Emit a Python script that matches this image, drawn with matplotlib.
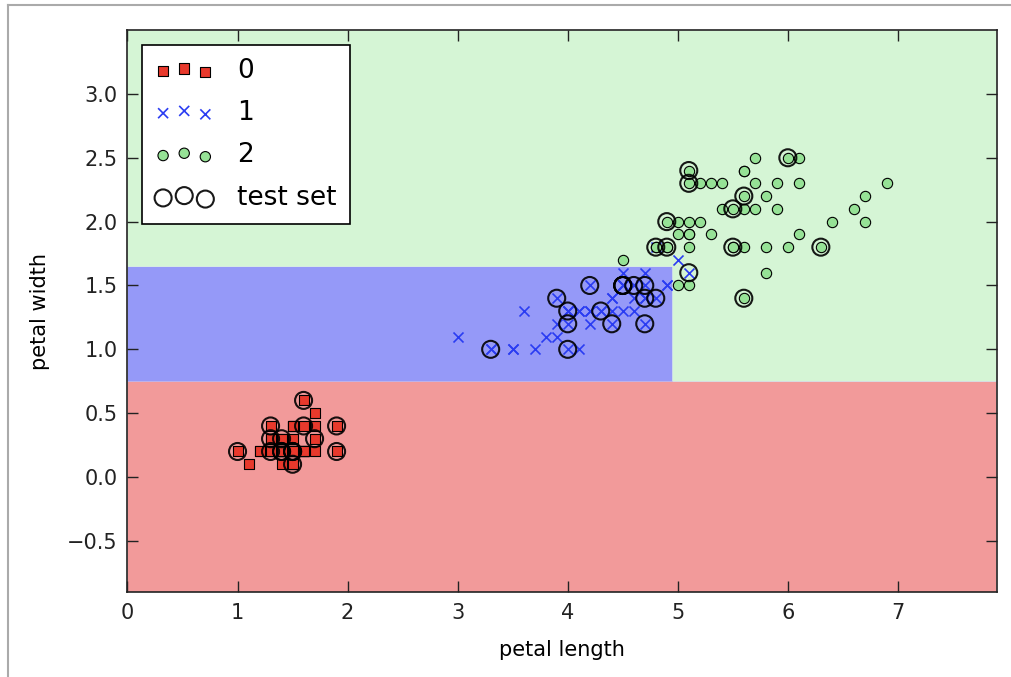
import matplotlib
matplotlib.use("Agg")
import matplotlib.pyplot as plt
from matplotlib.colors import ListedColormap
from matplotlib.lines import Line2D
import numpy as np

# iris petal measurements per class (length, width in cm)
setosa_length = [1.4, 1.4, 1.3, 1.5, 1.4, 1.7, 1.4, 1.5, 1.4, 1.5,
                 1.5, 1.6, 1.4, 1.1, 1.2, 1.5, 1.3, 1.4, 1.7, 1.5,
                 1.7, 1.5, 1.0, 1.7, 1.9, 1.6, 1.6, 1.5, 1.4, 1.6,
                 1.6, 1.5, 1.5, 1.4, 1.5, 1.2, 1.3, 1.5, 1.3, 1.5,
                 1.3, 1.3, 1.3, 1.6, 1.9, 1.4, 1.6, 1.4, 1.5, 1.4]
setosa_width = [0.2, 0.2, 0.2, 0.2, 0.2, 0.4, 0.3, 0.2, 0.2, 0.1,
                0.2, 0.2, 0.1, 0.1, 0.2, 0.4, 0.4, 0.3, 0.3, 0.3,
                0.2, 0.4, 0.2, 0.5, 0.2, 0.2, 0.4, 0.2, 0.2, 0.2,
                0.2, 0.4, 0.1, 0.2, 0.1, 0.2, 0.2, 0.1, 0.2, 0.2,
                0.3, 0.3, 0.2, 0.6, 0.4, 0.3, 0.2, 0.2, 0.2, 0.2]
versicolor_length = [4.7, 4.5, 4.9, 4.0, 4.6, 4.5, 4.7, 3.3, 4.6, 3.9,
                     3.5, 4.2, 4.0, 4.7, 3.6, 4.4, 4.5, 4.1, 4.5, 3.9,
                     4.8, 4.0, 4.9, 4.7, 4.3, 4.4, 4.8, 5.0, 4.5, 3.5,
                     3.8, 3.7, 3.9, 5.1, 4.5, 4.5, 4.7, 4.4, 4.1, 4.0,
                     4.4, 4.6, 4.0, 3.3, 4.2, 4.2, 4.2, 4.3, 3.0, 4.1]
versicolor_width = [1.4, 1.5, 1.5, 1.3, 1.5, 1.3, 1.6, 1.0, 1.3, 1.4,
                    1.0, 1.5, 1.0, 1.4, 1.3, 1.4, 1.5, 1.0, 1.5, 1.1,
                    1.8, 1.3, 1.5, 1.2, 1.3, 1.4, 1.4, 1.7, 1.5, 1.0,
                    1.1, 1.0, 1.2, 1.6, 1.5, 1.6, 1.5, 1.3, 1.3, 1.3,
                    1.2, 1.4, 1.2, 1.0, 1.3, 1.2, 1.3, 1.3, 1.1, 1.3]
virginica_length = [6.0, 5.1, 5.9, 5.6, 5.8, 6.6, 4.5, 6.3, 5.8, 6.1,
                    5.1, 5.3, 5.5, 5.0, 5.1, 5.3, 5.5, 6.7, 6.9, 5.0,
                    5.7, 4.9, 6.7, 4.9, 5.7, 6.0, 4.8, 4.9, 5.6, 5.8,
                    6.1, 6.4, 5.6, 5.1, 5.6, 6.1, 5.6, 5.5, 4.8, 5.4,
                    5.6, 5.1, 5.1, 5.9, 5.7, 5.2, 5.0, 5.2, 5.4, 5.1]
virginica_width = [2.5, 1.9, 2.1, 1.8, 2.2, 2.1, 1.7, 1.8, 1.8, 2.5,
                   2.0, 1.9, 2.1, 2.0, 2.4, 2.3, 1.8, 2.2, 2.3, 1.5,
                   2.3, 2.0, 2.0, 1.8, 2.1, 1.8, 1.8, 1.8, 2.1, 1.6,
                   1.9, 2.0, 2.2, 1.5, 1.4, 2.3, 2.4, 1.8, 1.8, 2.1,
                   2.4, 2.3, 1.9, 2.3, 2.5, 2.3, 1.9, 2.0, 2.3, 1.8]

# test set samples (circled)
test_length = [5.1, 4.0, 1.4, 6.3, 1.5, 6.0, 1.3, 4.7, 4.8, 4.0,
               5.6, 4.5, 4.7, 4.6, 4.7, 1.5, 4.5, 4.4, 1.4, 1.3,
               4.9, 4.5, 1.9, 1.4, 4.8, 1.0, 1.9, 4.3, 3.3, 1.6,
               5.5, 4.5, 1.5, 4.9, 5.6, 3.9, 1.7, 5.1, 4.2, 4.0,
               5.5, 1.3, 5.1, 1.6, 1.5]
test_width = [2.4, 1.0, 0.2, 1.8, 0.2, 2.5, 0.3, 1.5, 1.4, 1.3,
              1.4, 1.5, 1.2, 1.5, 1.4, 0.1, 1.5, 1.2, 0.3, 0.4,
              2.0, 1.5, 0.2, 0.2, 1.8, 0.2, 0.4, 1.3, 1.0, 0.4,
              1.8, 1.5, 0.2, 1.8, 2.2, 1.4, 0.3, 1.6, 1.5, 1.2,
              2.1, 0.2, 2.3, 0.6, 0.2]

# decision tree splits
split_width_low = 0.75
split_length = 4.95
split_width_high = 1.65

class_labels = ['0', '1', '2']
markers = ['s', 'x', 'o']
point_colors = ['#e8392c', '#2a3cf2', '#96e296']
region_colors = ['#f29a9a', '#9599f8', '#d5f5d5']


def tree_predict(length, width):
    inner = np.where((length <= split_length) & (width <= split_width_high), 1, 2)
    return np.where(width <= split_width_low, 0, inner)


lengths = [setosa_length, versicolor_length, virginica_length]
widths = [setosa_width, versicolor_width, virginica_width]
all_length = np.concatenate(lengths)
all_width = np.concatenate(widths)

x_min, x_max = all_length.min() - 1, all_length.max() + 1
y_min, y_max = all_width.min() - 1, all_width.max() + 1
xx1, xx2 = np.meshgrid(np.arange(x_min, x_max, 0.005),
                       np.arange(y_min, y_max, 0.005))
Z = tree_predict(xx1, xx2)

plt.rcParams['font.family'] = ['DejaVu Sans']
fig = plt.figure(figsize=(10.11, 6.77), dpi=100)
ax = fig.add_axes([0.1261, 0.1256, 0.8600, 0.8300])

ax.contourf(xx1, xx2, Z, levels=[-0.5, 0.5, 1.5, 2.5],
            cmap=ListedColormap(region_colors), antialiased=True)
ax.set_xlim(x_min, x_max)
ax.set_ylim(y_min, y_max)

for idx in range(3):
    if markers[idx] == 'x':
        ax.scatter(lengths[idx], widths[idx], s=52, marker='x',
                   c=point_colors[idx], linewidths=1.2,
                   label=class_labels[idx], zorder=3)
    else:
        ax.scatter(lengths[idx], widths[idx], s=55, marker=markers[idx],
                   c=point_colors[idx], edgecolors='black', linewidths=0.8,
                   label=class_labels[idx], zorder=3)

ax.scatter(test_length, test_width, s=150, marker='o', facecolors='none',
           edgecolors='black', linewidths=1.5, alpha=0.9,
           label='test set', zorder=4)

ax.set_xlabel('petal length', fontsize=15, labelpad=12)
ax.set_ylabel('petal width', fontsize=15, labelpad=12)
ax.set_xticks([0, 1, 2, 3, 4, 5, 6, 7])
ax.set_yticks([-0.5, 0.0, 0.5, 1.0, 1.5, 2.0, 2.5, 3.0])
ax.set_yticklabels(['\u22120.5', '0.0', '0.5', '1.0', '1.5', '2.0', '2.5', '3.0'])
ax.tick_params(direction='in', length=8, width=1, top=True, right=True,
               labelsize=15, colors='#222222')
ax.tick_params(axis='x', pad=8)
ax.tick_params(axis='y', pad=7)
for sp in ax.spines.values():
    sp.set_linewidth(1.2)
    sp.set_color('#222222')

leg = ax.legend(loc='upper left', scatterpoints=3, fontsize=19,
                fancybox=False, framealpha=1, edgecolor='black',
                borderaxespad=0.55, handletextpad=0.9, labelspacing=0.62,
                handlelength=2.2, borderpad=0.5)
leg.get_frame().set_linewidth(1.2)

# screenshot frame
fig.add_artist(Line2D([8 / 1011, 8 / 1011], [0, 1 - 5 / 677],
                      transform=fig.transFigure, color='#aaaaaa', lw=1.5))
fig.add_artist(Line2D([8 / 1011, 1], [1 - 5 / 677, 1 - 5 / 677],
                      transform=fig.transFigure, color='#aaaaaa', lw=1.5))

fig.savefig('out.png', dpi=100)
